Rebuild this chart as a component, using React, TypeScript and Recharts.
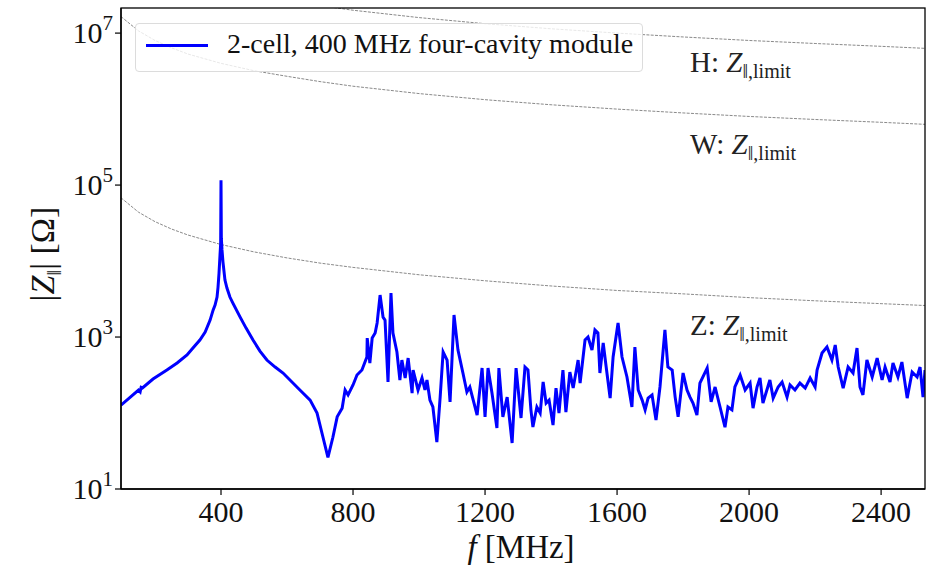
import React from "react";
import { LineChart, Line, XAxis, YAxis } from "recharts";

const freqMHz = [
  97, 150, 155, 158, 162, 194, 236, 267, 297, 315, 336, 352, 367, 376, 382, 388, 391, 394, 397, 399,
  400, 401, 403, 406, 412, 418, 427, 436, 458, 476, 497, 518, 539, 564, 588, 639, 670, 691, 709,
  724, 739, 752, 767, 776, 785, 800,
  812, 827, 842, 843, 851, 858, 867, 873, 882, 891, 897, 906, 915, 921, 933, 942, 948, 958, 967,
  979, 982, 997, 1009, 1018, 1024, 1033, 1042, 1054, 1064, 1073, 1085, 1094, 1106, 1118, 1133,
  1145, 1154, 1176, 1191, 1200, 1209, 1221, 1236, 1242, 1254, 1267, 1282, 1294, 1309, 1321, 1330,
  1339, 1345, 1357, 1367, 1376, 1385, 1394, 1406, 1415, 1424, 1436, 1445, 1457, 1467, 1482, 1488,
  1503, 1512, 1524, 1533, 1542, 1548, 1558, 1567, 1579, 1588, 1603, 1615, 1630, 1645, 1654, 1664,
  1676, 1685, 1694, 1706, 1718, 1730, 1745, 1754, 1767, 1776, 1785, 1800, 1812, 1821, 1830, 1842,
  1851, 1873, 1885, 1897, 1912, 1927, 1936, 1948, 1957, 1973, 1988, 2003, 2012, 2024, 2033, 2042,
  2063, 2073, 2088, 2100, 2115, 2124, 2139, 2154, 2170, 2185, 2200, 2206, 2221, 2236, 2251, 2261,
  2270, 2285, 2300, 2315, 2327, 2336, 2345, 2357, 2373, 2388, 2403, 2412, 2427, 2436, 2451, 2463,
  2479, 2494, 2509, 2518, 2527, 2533,
];
const impedanceOhm = [
  127, 200, 190, 218, 214, 280, 368, 455, 580, 717, 913, 1160, 1670, 2260, 2640, 3360, 4550, 6950,
  12000, 17000, 116000, 20000, 14000, 9700, 5620, 4410, 3360, 2800, 1830, 1310, 913, 654, 498, 403,
  336, 201, 148, 100, 48, 26, 48, 89, 116, 201, 173, 234,
  316, 368, 546, 970, 455, 970, 1130, 1530, 3570, 1830, 1670, 256, 3790, 1130, 635,
  272, 498, 289, 529, 183, 368, 201, 289, 201, 272, 148, 120, 41.5, 162, 635, 498, 140, 1950, 674,
  336, 189, 220, 94, 391, 89, 391, 183, 63.5, 391, 89, 162, 40.3, 391, 86, 403, 368, 110, 65.4,
  120, 100, 256, 135, 148, 69.5, 213, 100, 368, 103, 346, 213, 498, 248, 913, 1000, 674, 1240,
  1130, 336, 834, 403, 157, 546, 1530, 546, 298, 120, 739, 201, 148, 110, 157, 173, 81, 220, 1240,
  403, 368, 162, 89, 336, 201, 162, 135, 94, 248, 391, 140, 220, 120, 65, 120, 110, 220, 316, 201,
  248, 116, 220, 289, 135, 272, 157, 220, 256, 162, 234, 201, 248, 213, 289, 220, 368, 616, 739,
  498, 785, 403, 213, 403, 336, 717, 220, 173, 498, 298, 529, 272, 403, 256, 455, 298, 469, 157,
  346, 298, 403, 162, 368,
];

// impedance thresholds (dashed grey curves)
const limitFreqMHz = [97, 150, 200, 250, 300, 400, 500, 600, 700, 800, 1000, 1200, 1400, 1600, 1800, 2000, 2200, 2400, 2533];
const zLimitOhm = [68000, 44000, 33000, 26400, 22000, 16500, 13200, 11000, 9400, 8250, 6600, 5500, 4700, 4100, 3700, 3300, 3000, 2750, 2600];
const wLimitOhm = [1.65e7, 1.07e7, 8.0e6, 6.4e6, 5.3e6, 4.0e6, 3.2e6, 2.7e6, 2.3e6, 2.0e6, 1.6e6, 1.33e6, 1.14e6, 1.0e6, 8.9e5, 8.0e5, 7.3e5, 6.7e5, 6.3e5];
const hLimitFreqMHz = [600, 700, 800, 1000, 1200, 1400, 1600, 1800, 2000, 2200, 2400, 2533];
const hLimitOhm = [2.7e7, 2.3e7, 2.0e7, 1.6e7, 1.33e7, 1.14e7, 1.0e7, 8.9e6, 8.0e6, 7.3e6, 6.7e6, 6.3e6];

const xTicks = [400, 800, 1200, 1600, 2000, 2400];
const yTicks = [10, 1000, 100000, 10000000];

const font = "'Liberation Serif', 'DejaVu Serif', serif";

const impedance = freqMHz.map((f, i) => ({ f, z: impedanceOhm[i] }));
const zLimit = limitFreqMHz.map((f, i) => ({ f, z: zLimitOhm[i] }));
const wLimit = limitFreqMHz.map((f, i) => ({ f, z: wLimitOhm[i] }));
const hLimit = hLimitFreqMHz.map((f, i) => ({ f, z: hLimitOhm[i] }));

const YTick = ({ x, y, payload }: any) => {
  const exp = Math.round(Math.log10(payload.value));
  return (
    <text x={x} y={y + 10} textAnchor="end" fontFamily={font} fontSize={30} fill="#111">
      <tspan>10</tspan>
      <tspan dy={-13} fontSize={21}>{exp}</tspan>
    </text>
  );
};

const XTick = ({ x, y, payload }: any) => (
  <text x={x} y={y + 25} textAnchor="middle" fontFamily={font} fontSize={30} fill="#111">
    {payload.value}
  </text>
);

const LimitLabel = ({ x, y, name }: { x: number; y: number; name: string }) => (
  <text x={x} y={y} fontFamily={font} fontSize={29} fill="#222">
    {name}: <tspan fontStyle="italic">Z</tspan>
    <tspan fontSize={20} dy={6}>‖,limit</tspan>
  </text>
);

export default function App() {
  const dashed = { stroke: "#8a8a8a", strokeWidth: 1, strokeDasharray: "3 1.3", dot: false, isAnimationActive: false };
  return (
    <div style={{ position: "absolute", left: 0, top: 0, width: 943, height: 568, background: "#fff" }}>
      <LineChart width={943} height={568} margin={{ top: 8, right: 18, bottom: 0, left: 0 }}>
        <XAxis
          type="number"
          dataKey="f"
          domain={[97, 2533]}
          ticks={xTicks}
          allowDataOverflow
          height={79}
          tick={<XTick />}
          tickSize={6}
          axisLine={{ stroke: "#000", strokeWidth: 1.3 }}
          tickLine={{ stroke: "#000", strokeWidth: 1.2 }}
        />
        <YAxis
          type="number"
          scale="log"
          domain={[10, 2.14e7]}
          ticks={yTicks}
          allowDataOverflow
          width={121}
          tick={<YTick />}
          tickSize={6}
          axisLine={{ stroke: "#000", strokeWidth: 1.3 }}
          tickLine={{ stroke: "#000", strokeWidth: 1.2 }}
        />
        <Line data={hLimit} dataKey="z" type="linear" {...dashed} />
        <Line data={wLimit} dataKey="z" type="linear" {...dashed} />
        <Line data={zLimit} dataKey="z" type="linear" {...dashed} />
        <Line data={impedance} dataKey="z" type="linear" stroke="#0000ff" strokeWidth={3} dot={false} isAnimationActive={false} />
      </LineChart>

      <svg width={943} height={568} style={{ position: "absolute", left: 0, top: 0, pointerEvents: "none" }}>
        <rect x={121} y={8} width={804} height={481} fill="none" stroke="#000" strokeWidth={1.3} />
        <LimitLabel x={690} y={72} name="H" />
        <LimitLabel x={690} y={154} name="W" />
        <LimitLabel x={690} y={335} name="Z" />
        <text x={521} y={558} textAnchor="middle" fontFamily={font} fontSize={33} fill="#111">
          <tspan fontStyle="italic">f</tspan> [MHz]
        </text>
        <text transform="translate(54 254) rotate(-90)" textAnchor="middle" fontFamily={font} fontSize={34} fill="#111">
          |<tspan fontStyle="italic">Z</tspan>
          <tspan fontSize={21} dy={7}>‖</tspan>
          <tspan dy={-7}>| [Ω]</tspan>
        </text>
      </svg>

      <div
        style={{
          position: "absolute",
          left: 135,
          top: 23,
          width: 508,
          height: 49,
          boxSizing: "border-box",
          border: "1px solid #dcdcdc",
          borderRadius: 4,
          background: "rgba(255,255,255,0.8)",
          fontFamily: font,
          fontSize: 28,
          color: "#111",
        }}
      >
        <div style={{ position: "absolute", left: 10, top: 20, width: 62, height: 3, background: "#0000ff" }} />
        <div style={{ position: "absolute", left: 91, top: 4, whiteSpace: "nowrap" }}>2-cell, 400 MHz four-cavity module</div>
      </div>
    </div>
  );
}
